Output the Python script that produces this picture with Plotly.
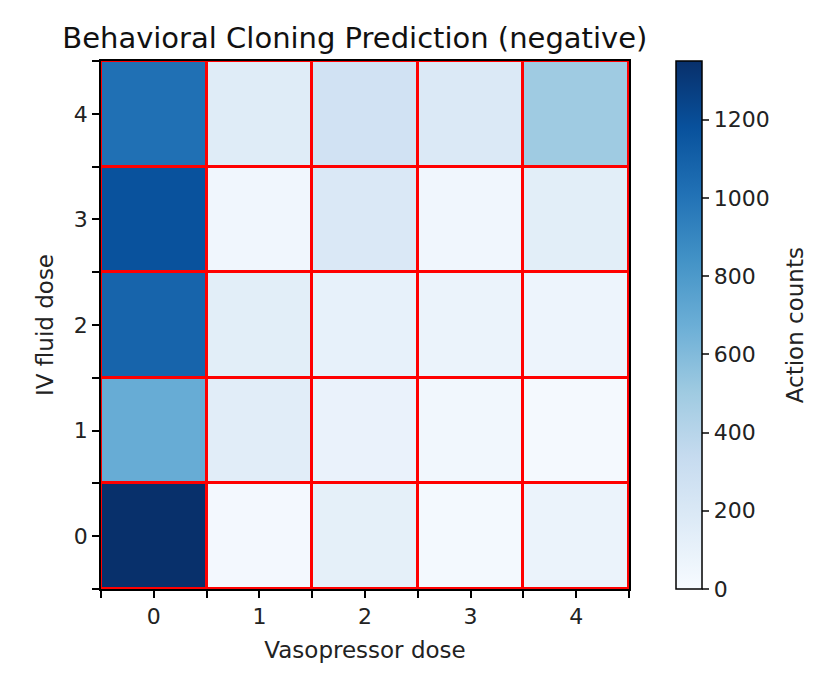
import plotly.graph_objects as go

# action counts, rows = IV fluid dose 0..4, cols = vasopressor dose 0..4
vaso_dose = [0, 1, 2, 3, 4]
iv_dose = [0, 1, 2, 3, 4]
counts_iv0 = [1350, 30, 120, 25, 80]
counts_iv1 = [690, 150, 90, 40, 20]
counts_iv2 = [1080, 140, 110, 80, 70]
counts_iv3 = [1175, 50, 200, 50, 140]
counts_iv4 = [1020, 160, 260, 190, 500]
counts = [counts_iv0, counts_iv1, counts_iv2, counts_iv3, counts_iv4]
cbar_ticks = [0, 200, 400, 600, 800, 1000, 1200]

# matplotlib 'Blues'
blues = ['#f7fbff', '#deebf7', '#c6dbef', '#9ecae1', '#6baed6',
         '#4292c6', '#2171b5', '#08519c', '#08306b']
cscale = [[i / (len(blues) - 1), c] for i, c in enumerate(blues)]

font = 'DejaVu Sans'

fig = go.Figure(go.Heatmap(
    x=vaso_dose, y=iv_dose, z=counts,
    colorscale=cscale, zmin=0, zmax=max(max(r) for r in counts),
    xgap=3, ygap=3,
    colorbar=dict(
        tickvals=cbar_ticks, ticks='outside', ticklen=7, tickwidth=1.5,
        tickfont=dict(size=22, color='#222'),
        thickness=26, len=1, lenmode='fraction', y=0.5, yanchor='middle', ypad=0,
        x=1.07, xanchor='left', outlinewidth=1.5, outlinecolor='black',
    ),
))

edges = [v - 0.5 for v in vaso_dose] + [vaso_dose[-1] + 0.5]

axis_common = dict(
    showline=True, linecolor='black', linewidth=1.5, mirror=True,
    ticks='outside', ticklen=7, tickwidth=1.5, tickcolor='black',
    tickfont=dict(size=22, color='#222'), showgrid=False, zeroline=False,
    range=[edges[0], edges[-1]],
    minor=dict(tickvals=edges, ticks='outside', ticklen=7, tickwidth=1.5,
               tickcolor='black', showgrid=False),
)

fig.update_xaxes(tickvals=vaso_dose, title=dict(text='Vasopressor dose', font=dict(size=23, color='#222'), standoff=14),
                 **axis_common)
fig.update_yaxes(tickvals=iv_dose, title=dict(text='IV fluid dose', font=dict(size=23, color='#222'), standoff=14),
                 **axis_common)

# colorbar label, placed further right than plotly's own title
fig.add_annotation(text='Action counts', textangle=-90, xref='paper', yref='paper',
                   x=1.315, y=0.5, xanchor='center', yanchor='middle', showarrow=False,
                   font=dict(size=23, color='#222'))

fig.update_layout(
    width=816, height=688,
    margin=dict(l=93, r=195, t=53, b=107),
    paper_bgcolor='white', plot_bgcolor='red',
    font=dict(family=font, color='#222'),
    title=dict(text='Behavioral Cloning Prediction (negative)', x=0.425, xanchor='center',
               y=0.957, yanchor='middle', font=dict(size=29, color='#111')),
)

fig.write_html('out.html')
